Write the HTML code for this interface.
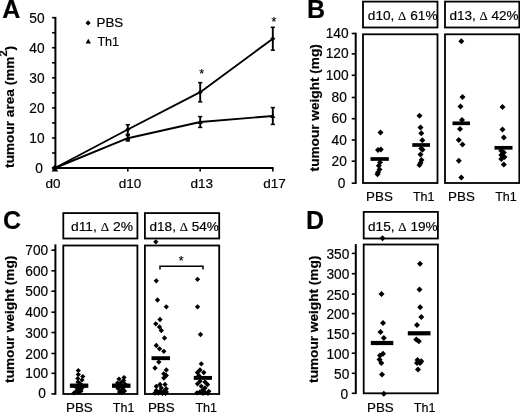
<!DOCTYPE html>
<html><head><meta charset="utf-8"><title>Figure</title>
<style>
html,body{margin:0;padding:0;background:#fff;}
body{width:520px;height:413px;overflow:hidden;font-family:"Liberation Sans",sans-serif;}
svg{display:block;will-change:transform;filter:blur(0.35px);}
svg text{font-family:"Liberation Sans",sans-serif;fill:#000;stroke:#000;stroke-width:0.18px;}
</style></head>
<body>
<svg width="520" height="413" viewBox="0 0 520 413" font-family="Liberation Sans, sans-serif">
<rect x="0" y="0" width="520" height="413" fill="#fff"/>
<text x="2.2" y="18.4" font-size="25" text-anchor="start" font-weight="bold" stroke="none" >A</text>
<line x1="55.4" y1="16.9" x2="55.4" y2="169.0" stroke="#000" stroke-width="2.0" stroke-linecap="butt"/>
<line x1="54.4" y1="168.0" x2="273.6" y2="168.0" stroke="#000" stroke-width="2.0" stroke-linecap="butt"/>
<line x1="52.1" y1="168.0" x2="55.4" y2="168.0" stroke="#000" stroke-width="1.6" stroke-linecap="butt"/>
<line x1="52.1" y1="152.97" x2="55.4" y2="152.97" stroke="#000" stroke-width="1.6" stroke-linecap="butt"/>
<line x1="52.1" y1="137.94" x2="55.4" y2="137.94" stroke="#000" stroke-width="1.6" stroke-linecap="butt"/>
<line x1="52.1" y1="122.91" x2="55.4" y2="122.91" stroke="#000" stroke-width="1.6" stroke-linecap="butt"/>
<line x1="52.1" y1="107.88" x2="55.4" y2="107.88" stroke="#000" stroke-width="1.6" stroke-linecap="butt"/>
<line x1="52.1" y1="92.85" x2="55.4" y2="92.85" stroke="#000" stroke-width="1.6" stroke-linecap="butt"/>
<line x1="52.1" y1="77.82" x2="55.4" y2="77.82" stroke="#000" stroke-width="1.6" stroke-linecap="butt"/>
<line x1="52.1" y1="62.78999999999999" x2="55.4" y2="62.78999999999999" stroke="#000" stroke-width="1.6" stroke-linecap="butt"/>
<line x1="52.1" y1="47.75999999999999" x2="55.4" y2="47.75999999999999" stroke="#000" stroke-width="1.6" stroke-linecap="butt"/>
<line x1="52.1" y1="32.72999999999999" x2="55.4" y2="32.72999999999999" stroke="#000" stroke-width="1.6" stroke-linecap="butt"/>
<line x1="52.1" y1="17.69999999999999" x2="55.4" y2="17.69999999999999" stroke="#000" stroke-width="1.6" stroke-linecap="butt"/>
<text transform="translate(42.800000000000004,173.05) scale(0.98,1)" font-size="14" text-anchor="end" >0</text>
<text transform="translate(44.6,142.99) scale(0.98,1)" font-size="14" text-anchor="end" >10</text>
<text transform="translate(44.6,112.92999999999999) scale(0.98,1)" font-size="14" text-anchor="end" >20</text>
<text transform="translate(44.6,82.86999999999999) scale(0.98,1)" font-size="14" text-anchor="end" >30</text>
<text transform="translate(44.6,52.80999999999999) scale(0.98,1)" font-size="14" text-anchor="end" >40</text>
<text transform="translate(44.6,22.74999999999999) scale(0.98,1)" font-size="14" text-anchor="end" >50</text>
<line x1="127.8" y1="168.0" x2="127.8" y2="171.5" stroke="#000" stroke-width="1.6" stroke-linecap="butt"/>
<line x1="200.2" y1="168.0" x2="200.2" y2="171.5" stroke="#000" stroke-width="1.6" stroke-linecap="butt"/>
<line x1="272.8" y1="168.0" x2="272.8" y2="171.5" stroke="#000" stroke-width="1.6" stroke-linecap="butt"/>
<text transform="translate(53.0,188.0) scale(1.04,1)" font-size="13" text-anchor="middle" >d0</text>
<text transform="translate(130.0,188.0) scale(1.04,1)" font-size="13" text-anchor="middle" >d10</text>
<text transform="translate(201.8,188.0) scale(1.04,1)" font-size="13" text-anchor="middle" >d13</text>
<text transform="translate(274.6,188.0) scale(1.04,1)" font-size="13" text-anchor="middle" >d17</text>
<text transform="translate(14.0,106.9) rotate(-90) scale(1.05,1)" font-size="13" text-anchor="middle" font-weight="bold" stroke="none">tumour area (mm<tspan font-size="10.5" dy="-6.6">2</tspan><tspan dy="6.6">)</tspan></text>
<path d="M85.50,22.90 L88.10,20.30 L90.70,22.90 L88.10,25.50Z"/>
<text transform="translate(96.5,27.3) scale(1.03,1)" font-size="13" text-anchor="start" >PBS</text>
<path d="M85.60,43.56 L88.30,38.70 L91.00,43.56Z"/>
<text transform="translate(97.4,46.3) scale(0.97,1)" font-size="13" text-anchor="start" >Th1</text>
<polyline points="54.9,168.0 127.8,129.5 200.2,92.2 272.8,38.7" fill="none" stroke="#000" stroke-width="1.9" stroke-linejoin="round"/>
<path d="M51.60,168.00 L54.90,164.70 L58.20,168.00 L54.90,171.30Z"/>
<line x1="127.8" y1="134.3328" x2="127.8" y2="124.71359999999999" stroke="#000" stroke-width="1.9" stroke-linecap="butt"/>
<line x1="125.7" y1="134.3328" x2="129.9" y2="134.3328" stroke="#000" stroke-width="1.5" stroke-linecap="butt"/>
<line x1="125.7" y1="124.71359999999999" x2="129.9" y2="124.71359999999999" stroke="#000" stroke-width="1.5" stroke-linecap="butt"/>
<path d="M125.30,129.52 L127.80,127.02 L130.30,129.52 L127.80,132.02Z"/>
<line x1="200.2" y1="101.868" x2="200.2" y2="82.6296" stroke="#000" stroke-width="1.9" stroke-linecap="butt"/>
<line x1="198.1" y1="101.868" x2="202.29999999999998" y2="101.868" stroke="#000" stroke-width="1.5" stroke-linecap="butt"/>
<line x1="198.1" y1="82.6296" x2="202.29999999999998" y2="82.6296" stroke="#000" stroke-width="1.5" stroke-linecap="butt"/>
<path d="M197.70,92.25 L200.20,89.75 L202.70,92.25 L200.20,94.75Z"/>
<line x1="272.8" y1="50.164799999999985" x2="272.8" y2="27.319199999999995" stroke="#000" stroke-width="1.9" stroke-linecap="butt"/>
<line x1="270.7" y1="50.164799999999985" x2="274.90000000000003" y2="50.164799999999985" stroke="#000" stroke-width="1.5" stroke-linecap="butt"/>
<line x1="270.7" y1="27.319199999999995" x2="274.90000000000003" y2="27.319199999999995" stroke="#000" stroke-width="1.5" stroke-linecap="butt"/>
<path d="M270.30,38.74 L272.80,36.24 L275.30,38.74 L272.80,41.24Z"/>
<polyline points="54.9,168.0 127.8,138.2 200.2,122.0 272.8,116.0" fill="none" stroke="#000" stroke-width="1.9" stroke-linejoin="round"/>
<path d="M51.60,171.44 L54.90,165.50 L58.20,171.44Z"/>
<line x1="127.8" y1="140.946" x2="127.8" y2="135.5352" stroke="#000" stroke-width="1.9" stroke-linecap="butt"/>
<line x1="125.7" y1="140.946" x2="129.9" y2="140.946" stroke="#000" stroke-width="1.5" stroke-linecap="butt"/>
<line x1="125.7" y1="135.5352" x2="129.9" y2="135.5352" stroke="#000" stroke-width="1.5" stroke-linecap="butt"/>
<path d="M125.30,140.24 L127.80,135.74 L130.30,140.24Z"/>
<line x1="200.2" y1="127.419" x2="200.2" y2="116.5974" stroke="#000" stroke-width="1.9" stroke-linecap="butt"/>
<line x1="198.1" y1="127.419" x2="202.29999999999998" y2="127.419" stroke="#000" stroke-width="1.5" stroke-linecap="butt"/>
<line x1="198.1" y1="116.5974" x2="202.29999999999998" y2="116.5974" stroke="#000" stroke-width="1.5" stroke-linecap="butt"/>
<path d="M197.70,124.01 L200.20,119.51 L202.70,124.01Z"/>
<line x1="272.8" y1="124.413" x2="272.8" y2="107.57939999999999" stroke="#000" stroke-width="1.9" stroke-linecap="butt"/>
<line x1="270.7" y1="124.413" x2="274.90000000000003" y2="124.413" stroke="#000" stroke-width="1.5" stroke-linecap="butt"/>
<line x1="270.7" y1="107.57939999999999" x2="274.90000000000003" y2="107.57939999999999" stroke="#000" stroke-width="1.5" stroke-linecap="butt"/>
<path d="M270.30,118.00 L272.80,113.50 L275.30,118.00Z"/>
<text x="201.8" y="78.3" font-size="12.5" text-anchor="middle" >*</text>
<text x="274" y="25.5" font-size="12.5" text-anchor="middle" >*</text>
<text x="307.1" y="17.8" font-size="25" text-anchor="start" font-weight="bold" stroke="none" >B</text>
<line x1="355.7" y1="32.7" x2="355.7" y2="184" stroke="#000" stroke-width="2.0" stroke-linecap="butt"/>
<line x1="351.7" y1="183.2" x2="355.7" y2="183.2" stroke="#000" stroke-width="1.6" stroke-linecap="butt"/>
<text transform="translate(345.3,187.75) scale(0.98,1)" font-size="14" text-anchor="end" >0</text>
<line x1="351.7" y1="161.2" x2="355.7" y2="161.2" stroke="#000" stroke-width="1.6" stroke-linecap="butt"/>
<text transform="translate(346.8,165.75) scale(0.98,1)" font-size="14" text-anchor="end" >20</text>
<line x1="351.7" y1="140" x2="355.7" y2="140" stroke="#000" stroke-width="1.6" stroke-linecap="butt"/>
<text transform="translate(346.8,144.55) scale(0.98,1)" font-size="14" text-anchor="end" >40</text>
<line x1="351.7" y1="118.7" x2="355.7" y2="118.7" stroke="#000" stroke-width="1.6" stroke-linecap="butt"/>
<text transform="translate(346.8,123.25) scale(0.98,1)" font-size="14" text-anchor="end" >60</text>
<line x1="351.7" y1="97.5" x2="355.7" y2="97.5" stroke="#000" stroke-width="1.6" stroke-linecap="butt"/>
<text transform="translate(346.8,102.05) scale(0.98,1)" font-size="14" text-anchor="end" >80</text>
<line x1="351.7" y1="75.3" x2="355.7" y2="75.3" stroke="#000" stroke-width="1.6" stroke-linecap="butt"/>
<text transform="translate(348.6,79.85) scale(0.98,1)" font-size="14" text-anchor="end" >100</text>
<line x1="351.7" y1="53.9" x2="355.7" y2="53.9" stroke="#000" stroke-width="1.6" stroke-linecap="butt"/>
<text transform="translate(348.6,58.449999999999996) scale(0.98,1)" font-size="14" text-anchor="end" >120</text>
<line x1="351.7" y1="33.5" x2="355.7" y2="33.5" stroke="#000" stroke-width="1.6" stroke-linecap="butt"/>
<text transform="translate(348.6,38.05) scale(0.98,1)" font-size="14" text-anchor="end" >140</text>
<text transform="translate(319.2,107.8) rotate(-90) scale(1.05,1)" font-size="13" text-anchor="middle" font-weight="bold" stroke="none">tumour weight (mg)</text>
<rect x="363" y="1.6" width="74.5" height="25.9" fill="none" stroke="#000" stroke-width="1.8"/>
<rect x="445" y="1.6" width="74.29999999999995" height="25.9" fill="none" stroke="#000" stroke-width="1.8"/>
<rect x="363" y="34.3" width="74.5" height="148.7" fill="none" stroke="#000" stroke-width="1.8"/>
<rect x="445" y="34.3" width="74.29999999999995" height="148.7" fill="none" stroke="#000" stroke-width="1.8"/>
<text transform="translate(367.8,20.3) scale(1.05,1)" font-size="13" text-anchor="start" >d10, <tspan font-family="Liberation Serif, serif" font-size="12.3">Δ</tspan> 61%</text>
<text transform="translate(449.4,20.3) scale(1.04,1)" font-size="13" text-anchor="start" >d13, <tspan font-family="Liberation Serif, serif" font-size="12.3">Δ</tspan> 42%</text>
<text transform="translate(379.5,200.6) scale(1.03,1)" font-size="13" text-anchor="middle" >PBS</text>
<text transform="translate(423.7,200.6) scale(0.965,1)" font-size="13" text-anchor="middle" >Th1</text>
<text transform="translate(461.5,200.6) scale(1.03,1)" font-size="13" text-anchor="middle" >PBS</text>
<text transform="translate(506,200.6) scale(0.965,1)" font-size="13" text-anchor="middle" >Th1</text>
<path d="M377.50,132.50 L380.50,129.50 L383.50,132.50 L380.50,135.50Z"/>
<path d="M375.00,150.00 L378.00,147.00 L381.00,150.00 L378.00,153.00Z"/>
<path d="M377.80,149.60 L380.80,146.60 L383.80,149.60 L380.80,152.60Z"/>
<path d="M377.00,162.50 L380.00,159.50 L383.00,162.50 L380.00,165.50Z"/>
<path d="M375.80,165.80 L378.80,162.80 L381.80,165.80 L378.80,168.80Z"/>
<path d="M376.50,169.50 L379.50,166.50 L382.50,169.50 L379.50,172.50Z"/>
<path d="M375.00,172.50 L378.00,169.50 L381.00,172.50 L378.00,175.50Z"/>
<path d="M374.50,174.30 L377.50,171.30 L380.50,174.30 L377.50,177.30Z"/>
<path d="M416.50,115.80 L419.50,112.80 L422.50,115.80 L419.50,118.80Z"/>
<path d="M417.50,127.50 L420.50,124.50 L423.50,127.50 L420.50,130.50Z"/>
<path d="M418.30,133.30 L421.30,130.30 L424.30,133.30 L421.30,136.30Z"/>
<path d="M419.30,140.30 L422.30,137.30 L425.30,140.30 L422.30,143.30Z"/>
<path d="M418.30,148.60 L421.30,145.60 L424.30,148.60 L421.30,151.60Z"/>
<path d="M419.50,149.80 L422.50,146.80 L425.50,149.80 L422.50,152.80Z"/>
<path d="M417.50,154.50 L420.50,151.50 L423.50,154.50 L420.50,157.50Z"/>
<path d="M418.50,160.00 L421.50,157.00 L424.50,160.00 L421.50,163.00Z"/>
<path d="M417.50,163.00 L420.50,160.00 L423.50,163.00 L420.50,166.00Z"/>
<path d="M416.50,165.00 L419.50,162.00 L422.50,165.00 L419.50,168.00Z"/>
<path d="M458.30,41.30 L461.30,38.30 L464.30,41.30 L461.30,44.30Z"/>
<path d="M459.50,97.00 L462.50,94.00 L465.50,97.00 L462.50,100.00Z"/>
<path d="M457.50,106.50 L460.50,103.50 L463.50,106.50 L460.50,109.50Z"/>
<path d="M459.00,120.00 L462.00,117.00 L465.00,120.00 L462.00,123.00Z"/>
<path d="M457.00,129.00 L460.00,126.00 L463.00,129.00 L460.00,132.00Z"/>
<path d="M455.80,140.00 L458.80,137.00 L461.80,140.00 L458.80,143.00Z"/>
<path d="M459.50,144.50 L462.50,141.50 L465.50,144.50 L462.50,147.50Z"/>
<path d="M455.80,160.80 L458.80,157.80 L461.80,160.80 L458.80,163.80Z"/>
<path d="M458.30,177.50 L461.30,174.50 L464.30,177.50 L461.30,180.50Z"/>
<path d="M499.50,107.00 L502.50,104.00 L505.50,107.00 L502.50,110.00Z"/>
<path d="M499.50,129.50 L502.50,126.50 L505.50,129.50 L502.50,132.50Z"/>
<path d="M500.80,137.50 L503.80,134.50 L506.80,137.50 L503.80,140.50Z"/>
<path d="M498.30,150.80 L501.30,147.80 L504.30,150.80 L501.30,153.80Z"/>
<path d="M500.80,152.50 L503.80,149.50 L506.80,152.50 L503.80,155.50Z"/>
<path d="M498.30,155.00 L501.30,152.00 L504.30,155.00 L501.30,158.00Z"/>
<path d="M501.50,157.00 L504.50,154.00 L507.50,157.00 L504.50,160.00Z"/>
<path d="M498.30,159.00 L501.30,156.00 L504.30,159.00 L501.30,162.00Z"/>
<path d="M500.80,164.50 L503.80,161.50 L506.80,164.50 L503.80,167.50Z"/>
<line x1="370.5" y1="159" x2="388.8" y2="159" stroke="#000" stroke-width="3.7" stroke-linecap="butt"/>
<line x1="412.3" y1="145" x2="430" y2="145" stroke="#000" stroke-width="3.7" stroke-linecap="butt"/>
<line x1="452.5" y1="123.3" x2="470" y2="123.3" stroke="#000" stroke-width="3.7" stroke-linecap="butt"/>
<line x1="494.5" y1="147.8" x2="512.5" y2="147.8" stroke="#000" stroke-width="3.7" stroke-linecap="butt"/>
<text x="3.1" y="228.6" font-size="25" text-anchor="start" font-weight="bold" stroke="none" >C</text>
<line x1="55.4" y1="244.4" x2="55.4" y2="394.7" stroke="#000" stroke-width="2.0" stroke-linecap="butt"/>
<line x1="51.4" y1="393.9" x2="55.4" y2="393.9" stroke="#000" stroke-width="1.6" stroke-linecap="butt"/>
<text transform="translate(45.900000000000006,398.34999999999997) scale(0.98,1)" font-size="14" text-anchor="end" >0</text>
<line x1="51.4" y1="373.3" x2="55.4" y2="373.3" stroke="#000" stroke-width="1.6" stroke-linecap="butt"/>
<text transform="translate(48.2,378.35) scale(0.98,1)" font-size="14" text-anchor="end" >100</text>
<line x1="51.4" y1="353.5" x2="55.4" y2="353.5" stroke="#000" stroke-width="1.6" stroke-linecap="butt"/>
<text transform="translate(48.2,358.55) scale(0.98,1)" font-size="14" text-anchor="end" >200</text>
<line x1="51.4" y1="332.5" x2="55.4" y2="332.5" stroke="#000" stroke-width="1.6" stroke-linecap="butt"/>
<text transform="translate(48.2,337.55) scale(0.98,1)" font-size="14" text-anchor="end" >300</text>
<line x1="51.4" y1="312.2" x2="55.4" y2="312.2" stroke="#000" stroke-width="1.6" stroke-linecap="butt"/>
<text transform="translate(48.2,317.25) scale(0.98,1)" font-size="14" text-anchor="end" >400</text>
<line x1="51.4" y1="291.2" x2="55.4" y2="291.2" stroke="#000" stroke-width="1.6" stroke-linecap="butt"/>
<text transform="translate(48.2,296.25) scale(0.98,1)" font-size="14" text-anchor="end" >500</text>
<line x1="51.4" y1="270.8" x2="55.4" y2="270.8" stroke="#000" stroke-width="1.6" stroke-linecap="butt"/>
<text transform="translate(48.2,275.85) scale(0.98,1)" font-size="14" text-anchor="end" >600</text>
<line x1="51.4" y1="250.2" x2="55.4" y2="250.2" stroke="#000" stroke-width="1.6" stroke-linecap="butt"/>
<text transform="translate(48.2,255.25) scale(0.98,1)" font-size="14" text-anchor="end" >700</text>
<text transform="translate(14,319.3) rotate(-90) scale(1.05,1)" font-size="13" text-anchor="middle" font-weight="bold" stroke="none">tumour weight (mg)</text>
<rect x="63.3" y="213.1" width="74.10000000000001" height="25.400000000000006" fill="none" stroke="#000" stroke-width="1.8"/>
<rect x="144.9" y="213.1" width="74.29999999999998" height="25.400000000000006" fill="none" stroke="#000" stroke-width="1.8"/>
<rect x="63.3" y="245.5" width="74.10000000000001" height="148.5" fill="none" stroke="#000" stroke-width="1.8"/>
<rect x="144.9" y="245.5" width="74.29999999999998" height="148.5" fill="none" stroke="#000" stroke-width="1.8"/>
<text transform="translate(71.0,231.2) scale(1.065,1)" font-size="13" text-anchor="start" >d11, <tspan font-family="Liberation Serif, serif" font-size="12.3">Δ</tspan> 2%</text>
<text transform="translate(149.6,231.2) scale(1.04,1)" font-size="13" text-anchor="start" >d18, <tspan font-family="Liberation Serif, serif" font-size="12.3">Δ</tspan> 54%</text>
<text transform="translate(79.4,411.8) scale(1.03,1)" font-size="13" text-anchor="middle" >PBS</text>
<text transform="translate(123.6,411.8) scale(0.965,1)" font-size="13" text-anchor="middle" >Th1</text>
<text transform="translate(161.3,411.8) scale(1.03,1)" font-size="13" text-anchor="middle" >PBS</text>
<text transform="translate(206.2,411.8) scale(0.965,1)" font-size="13" text-anchor="middle" >Th1</text>
<path d="M75.70,370.50 L78.30,367.90 L80.90,370.50 L78.30,373.10Z"/>
<path d="M75.70,374.50 L78.30,371.90 L80.90,374.50 L78.30,377.10Z"/>
<path d="M75.20,378.50 L77.80,375.90 L80.40,378.50 L77.80,381.10Z"/>
<path d="M80.20,376.50 L82.80,373.90 L85.40,376.50 L82.80,379.10Z"/>
<path d="M79.40,380.00 L82.00,377.40 L84.60,380.00 L82.00,382.60Z"/>
<path d="M75.40,382.00 L78.00,379.40 L80.60,382.00 L78.00,384.60Z"/>
<path d="M77.90,384.00 L80.50,381.40 L83.10,384.00 L80.50,386.60Z"/>
<path d="M73.40,387.00 L76.00,384.40 L78.60,387.00 L76.00,389.60Z"/>
<path d="M76.40,388.50 L79.00,385.90 L81.60,388.50 L79.00,391.10Z"/>
<path d="M79.40,388.00 L82.00,385.40 L84.60,388.00 L82.00,390.60Z"/>
<path d="M74.40,390.50 L77.00,387.90 L79.60,390.50 L77.00,393.10Z"/>
<path d="M72.90,392.00 L75.50,389.40 L78.10,392.00 L75.50,394.60Z"/>
<path d="M75.90,392.00 L78.50,389.40 L81.10,392.00 L78.50,394.60Z"/>
<path d="M78.40,391.00 L81.00,388.40 L83.60,391.00 L81.00,393.60Z"/>
<path d="M71.40,393.00 L74.00,390.40 L76.60,393.00 L74.00,395.60Z"/>
<path d="M121.40,377.50 L124.00,374.90 L126.60,377.50 L124.00,380.10Z"/>
<path d="M121.00,380.50 L123.60,377.90 L126.20,380.50 L123.60,383.10Z"/>
<path d="M116.40,379.00 L119.00,376.40 L121.60,379.00 L119.00,381.60Z"/>
<path d="M118.40,382.50 L121.00,379.90 L123.60,382.50 L121.00,385.10Z"/>
<path d="M114.90,383.00 L117.50,380.40 L120.10,383.00 L117.50,385.60Z"/>
<path d="M122.40,384.00 L125.00,381.40 L127.60,384.00 L125.00,386.60Z"/>
<path d="M117.40,386.00 L120.00,383.40 L122.60,386.00 L120.00,388.60Z"/>
<path d="M120.40,388.00 L123.00,385.40 L125.60,388.00 L123.00,390.60Z"/>
<path d="M115.40,388.50 L118.00,385.90 L120.60,388.50 L118.00,391.10Z"/>
<path d="M118.40,390.50 L121.00,387.90 L123.60,390.50 L121.00,393.10Z"/>
<path d="M121.90,391.00 L124.50,388.40 L127.10,391.00 L124.50,393.60Z"/>
<path d="M116.90,392.00 L119.50,389.40 L122.10,392.00 L119.50,394.60Z"/>
<path d="M119.40,392.50 L122.00,389.90 L124.60,392.50 L122.00,395.10Z"/>
<line x1="69.9" y1="385.7" x2="88.3" y2="385.7" stroke="#000" stroke-width="4.3" stroke-linecap="butt"/>
<line x1="112" y1="385.7" x2="130.5" y2="385.7" stroke="#000" stroke-width="4.3" stroke-linecap="butt"/>
<path d="M153.15,241.80 L155.80,239.15 L158.45,241.80 L155.80,244.45Z"/>
<path d="M153.65,280.80 L156.30,278.15 L158.95,280.80 L156.30,283.45Z"/>
<path d="M154.85,300.00 L157.50,297.35 L160.15,300.00 L157.50,302.65Z"/>
<path d="M163.65,306.80 L166.30,304.15 L168.95,306.80 L166.30,309.45Z"/>
<path d="M157.35,319.50 L160.00,316.85 L162.65,319.50 L160.00,322.15Z"/>
<path d="M153.15,323.80 L155.80,321.15 L158.45,323.80 L155.80,326.45Z"/>
<path d="M156.85,327.00 L159.50,324.35 L162.15,327.00 L159.50,329.65Z"/>
<path d="M158.65,330.50 L161.30,327.85 L163.95,330.50 L161.30,333.15Z"/>
<path d="M161.85,338.00 L164.50,335.35 L167.15,338.00 L164.50,340.65Z"/>
<path d="M153.65,345.50 L156.30,342.85 L158.95,345.50 L156.30,348.15Z"/>
<path d="M156.85,348.80 L159.50,346.15 L162.15,348.80 L159.50,351.45Z"/>
<path d="M161.15,351.30 L163.80,348.65 L166.45,351.30 L163.80,353.95Z"/>
<path d="M156.15,362.00 L158.80,359.35 L161.45,362.00 L158.80,364.65Z"/>
<path d="M152.35,368.00 L155.00,365.35 L157.65,368.00 L155.00,370.65Z"/>
<path d="M163.65,370.00 L166.30,367.35 L168.95,370.00 L166.30,372.65Z"/>
<path d="M161.15,373.80 L163.80,371.15 L166.45,373.80 L163.80,376.45Z"/>
<path d="M163.65,375.50 L166.30,372.85 L168.95,375.50 L166.30,378.15Z"/>
<path d="M161.15,378.00 L163.80,375.35 L166.45,378.00 L163.80,380.65Z"/>
<path d="M157.35,384.50 L160.00,381.85 L162.65,384.50 L160.00,387.15Z"/>
<path d="M162.35,384.50 L165.00,381.85 L167.65,384.50 L165.00,387.15Z"/>
<path d="M153.65,386.30 L156.30,383.65 L158.95,386.30 L156.30,388.95Z"/>
<path d="M158.65,388.00 L161.30,385.35 L163.95,388.00 L161.30,390.65Z"/>
<path d="M163.65,388.80 L166.30,386.15 L168.95,388.80 L166.30,391.45Z"/>
<path d="M153.65,390.50 L156.30,387.85 L158.95,390.50 L156.30,393.15Z"/>
<path d="M157.35,391.30 L160.00,388.65 L162.65,391.30 L160.00,393.95Z"/>
<path d="M161.15,391.30 L163.80,388.65 L166.45,391.30 L163.80,393.95Z"/>
<path d="M163.65,392.00 L166.30,389.35 L168.95,392.00 L166.30,394.65Z"/>
<path d="M152.35,393.00 L155.00,390.35 L157.65,393.00 L155.00,395.65Z"/>
<path d="M155.85,393.00 L158.50,390.35 L161.15,393.00 L158.50,395.65Z"/>
<path d="M159.85,393.30 L162.50,390.65 L165.15,393.30 L162.50,395.95Z"/>
<path d="M162.85,393.30 L165.50,390.65 L168.15,393.30 L165.50,395.95Z"/>
<path d="M194.85,279.30 L197.50,276.65 L200.15,279.30 L197.50,281.95Z"/>
<path d="M194.85,306.80 L197.50,304.15 L200.15,306.80 L197.50,309.45Z"/>
<path d="M197.85,334.50 L200.50,331.85 L203.15,334.50 L200.50,337.15Z"/>
<path d="M198.65,363.80 L201.30,361.15 L203.95,363.80 L201.30,366.45Z"/>
<path d="M197.35,370.00 L200.00,367.35 L202.65,370.00 L200.00,372.65Z"/>
<path d="M194.85,372.50 L197.50,369.85 L200.15,372.50 L197.50,375.15Z"/>
<path d="M201.15,372.50 L203.80,369.85 L206.45,372.50 L203.80,375.15Z"/>
<path d="M196.15,375.50 L198.80,372.85 L201.45,375.50 L198.80,378.15Z"/>
<path d="M197.35,381.30 L200.00,378.65 L202.65,381.30 L200.00,383.95Z"/>
<path d="M202.35,382.00 L205.00,379.35 L207.65,382.00 L205.00,384.65Z"/>
<path d="M194.85,383.80 L197.50,381.15 L200.15,383.80 L197.50,386.45Z"/>
<path d="M204.85,384.50 L207.50,381.85 L210.15,384.50 L207.50,387.15Z"/>
<path d="M198.65,386.30 L201.30,383.65 L203.95,386.30 L201.30,388.95Z"/>
<path d="M202.35,388.00 L205.00,385.35 L207.65,388.00 L205.00,390.65Z"/>
<path d="M199.85,390.50 L202.50,387.85 L205.15,390.50 L202.50,393.15Z"/>
<path d="M206.15,391.30 L208.80,388.65 L211.45,391.30 L208.80,393.95Z"/>
<path d="M197.35,392.00 L200.00,389.35 L202.65,392.00 L200.00,394.65Z"/>
<path d="M202.35,392.50 L205.00,389.85 L207.65,392.50 L205.00,395.15Z"/>
<path d="M194.35,392.80 L197.00,390.15 L199.65,392.80 L197.00,395.45Z"/>
<path d="M200.35,393.30 L203.00,390.65 L205.65,393.30 L203.00,395.95Z"/>
<path d="M205.35,393.30 L208.00,390.65 L210.65,393.30 L208.00,395.95Z"/>
<line x1="151.5" y1="358.2" x2="170" y2="358.2" stroke="#000" stroke-width="3.9" stroke-linecap="butt"/>
<line x1="193.8" y1="377.9" x2="212" y2="377.9" stroke="#000" stroke-width="3.9" stroke-linecap="butt"/>
<path d="M160,269.5 L160,266.2 L203,266.2 L203,269.5" fill="none" stroke="#000" stroke-width="1.5"/>
<text x="181.3" y="265.3" font-size="12.5" text-anchor="middle" >*</text>
<text x="306.0" y="228.8" font-size="25" text-anchor="start" font-weight="bold" stroke="none" >D</text>
<line x1="355.8" y1="244.1" x2="355.8" y2="394.1" stroke="#000" stroke-width="2.0" stroke-linecap="butt"/>
<line x1="351.8" y1="393.3" x2="355.8" y2="393.3" stroke="#000" stroke-width="1.6" stroke-linecap="butt"/>
<text transform="translate(348.1,398.85) scale(0.98,1)" font-size="14" text-anchor="end" >0</text>
<line x1="351.8" y1="373.3" x2="355.8" y2="373.3" stroke="#000" stroke-width="1.6" stroke-linecap="butt"/>
<text transform="translate(349.3,378.85) scale(0.98,1)" font-size="14" text-anchor="end" >50</text>
<line x1="351.8" y1="353.2" x2="355.8" y2="353.2" stroke="#000" stroke-width="1.6" stroke-linecap="butt"/>
<text transform="translate(349.3,358.75) scale(0.98,1)" font-size="14" text-anchor="end" >100</text>
<line x1="351.8" y1="333.5" x2="355.8" y2="333.5" stroke="#000" stroke-width="1.6" stroke-linecap="butt"/>
<text transform="translate(349.3,339.05) scale(0.98,1)" font-size="14" text-anchor="end" >150</text>
<line x1="351.8" y1="313.6" x2="355.8" y2="313.6" stroke="#000" stroke-width="1.6" stroke-linecap="butt"/>
<text transform="translate(349.3,319.15000000000003) scale(0.98,1)" font-size="14" text-anchor="end" >200</text>
<line x1="351.8" y1="294.1" x2="355.8" y2="294.1" stroke="#000" stroke-width="1.6" stroke-linecap="butt"/>
<text transform="translate(349.3,299.65000000000003) scale(0.98,1)" font-size="14" text-anchor="end" >250</text>
<line x1="351.8" y1="273.7" x2="355.8" y2="273.7" stroke="#000" stroke-width="1.6" stroke-linecap="butt"/>
<text transform="translate(349.3,279.25) scale(0.98,1)" font-size="14" text-anchor="end" >300</text>
<line x1="351.8" y1="253.4" x2="355.8" y2="253.4" stroke="#000" stroke-width="1.6" stroke-linecap="butt"/>
<text transform="translate(349.3,258.95) scale(0.98,1)" font-size="14" text-anchor="end" >350</text>
<text transform="translate(317.6,319.3) rotate(-90) scale(1.05,1)" font-size="13" text-anchor="middle" font-weight="bold" stroke="none">tumour weight (mg)</text>
<rect x="363.7" y="211.9" width="74.19999999999999" height="26.599999999999994" fill="none" stroke="#000" stroke-width="1.8"/>
<rect x="363.7" y="244.5" width="74.19999999999999" height="148.8" fill="none" stroke="#000" stroke-width="1.8"/>
<text transform="translate(368,231.0) scale(1.05,1)" font-size="13" text-anchor="start" >d15, <tspan font-family="Liberation Serif, serif" font-size="12.3">Δ</tspan> 19%</text>
<text transform="translate(380.4,412.4) scale(1.03,1)" font-size="13" text-anchor="middle" >PBS</text>
<text transform="translate(424.6,412.4) scale(0.965,1)" font-size="13" text-anchor="middle" >Th1</text>
<path d="M379.50,238.30 L382.50,235.30 L385.50,238.30 L382.50,241.30Z"/>
<path d="M378.50,294.00 L381.50,291.00 L384.50,294.00 L381.50,297.00Z"/>
<path d="M380.00,323.00 L383.00,320.00 L386.00,323.00 L383.00,326.00Z"/>
<path d="M377.50,332.00 L380.50,329.00 L383.50,332.00 L380.50,335.00Z"/>
<path d="M380.80,338.00 L383.80,335.00 L386.80,338.00 L383.80,341.00Z"/>
<path d="M380.00,353.80 L383.00,350.80 L386.00,353.80 L383.00,356.80Z"/>
<path d="M377.00,355.50 L380.00,352.50 L383.00,355.50 L380.00,358.50Z"/>
<path d="M376.50,359.50 L379.50,356.50 L382.50,359.50 L379.50,362.50Z"/>
<path d="M378.30,363.00 L381.30,360.00 L384.30,363.00 L381.30,366.00Z"/>
<path d="M379.00,374.50 L382.00,371.50 L385.00,374.50 L382.00,377.50Z"/>
<path d="M380.80,393.80 L383.80,390.80 L386.80,393.80 L383.80,396.80Z"/>
<path d="M417.00,263.80 L420.00,260.80 L423.00,263.80 L420.00,266.80Z"/>
<path d="M416.50,289.50 L419.50,286.50 L422.50,289.50 L419.50,292.50Z"/>
<path d="M417.20,307.30 L420.20,304.30 L423.20,307.30 L420.20,310.30Z"/>
<path d="M418.30,317.00 L421.30,314.00 L424.30,317.00 L421.30,320.00Z"/>
<path d="M414.00,325.00 L417.00,322.00 L420.00,325.00 L417.00,328.00Z"/>
<path d="M413.30,339.50 L416.30,336.50 L419.30,339.50 L416.30,342.50Z"/>
<path d="M415.80,341.30 L418.80,338.30 L421.80,341.30 L418.80,344.30Z"/>
<path d="M414.50,360.00 L417.50,357.00 L420.50,360.00 L417.50,363.00Z"/>
<path d="M418.30,361.30 L421.30,358.30 L424.30,361.30 L421.30,364.30Z"/>
<path d="M414.00,363.00 L417.00,360.00 L420.00,363.00 L417.00,366.00Z"/>
<path d="M417.00,363.00 L420.00,360.00 L423.00,363.00 L420.00,366.00Z"/>
<path d="M415.00,369.50 L418.00,366.50 L421.00,369.50 L418.00,372.50Z"/>
<line x1="370.8" y1="343" x2="393.3" y2="343" stroke="#000" stroke-width="4.2" stroke-linecap="butt"/>
<line x1="407.8" y1="333.3" x2="430.5" y2="333.3" stroke="#000" stroke-width="4.2" stroke-linecap="butt"/>
</svg>
</body></html>
